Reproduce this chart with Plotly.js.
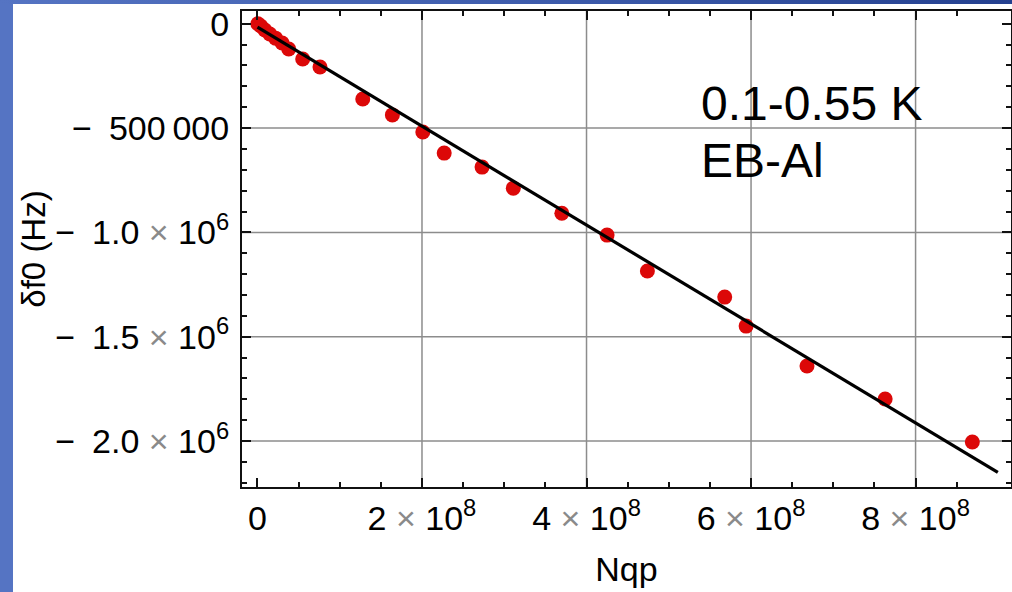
<!DOCTYPE html>
<html>
<head>
<meta charset="utf-8">
<script src="https://cdn.plot.ly/plotly-3.0.1.min.js"></script>
<style>
  html, body { margin: 0; padding: 0; width: 1012px; height: 592px; overflow: hidden; background: #5574c3; }
  #topbar { position: absolute; left: 0; top: 0; width: 1012px; height: 4px; background: linear-gradient(90deg, #5574c3, #3a58a8 60%, #24408f); }
  #chart { position: absolute; left: 13px; top: 4px; width: 999px; height: 588px; background: #fff; }
</style>
</head>
<body>
<div id="topbar"></div>
<div id="chart"></div>
<script>
// Measured data: quasiparticle number vs frequency shift
const nqp = [0.005e8, 0.04e8, 0.09e8, 0.15e8, 0.22e8, 0.30e8, 0.38e8, 0.55e8, 0.76e8,
             1.28e8, 1.64e8, 2.01e8, 2.27e8, 2.73e8, 3.11e8, 3.70e8, 4.25e8, 4.74e8,
             5.68e8, 5.94e8, 6.68e8, 7.63e8, 8.69e8];
const df0 = [0, -11000, -30000, -49000, -69000, -92000, -121000, -169000, -207000,
             -361000, -437000, -519000, -620000, -687000, -788000, -908000, -1013000, -1185000,
             -1310000, -1449000, -1640000, -1798000, -2004000];

// Linear fit line endpoints
const fitX = [0, 9.0e8];
const fitY = [-16600, -2149600];

// Tick labels
const xTickVals = [0, 2e8, 4e8, 6e8, 8e8];
const xTickText = ['0',
  '2<span style="color:#8a8a8a"> × </span>10<sup>8</sup>',
  '4<span style="color:#8a8a8a"> × </span>10<sup>8</sup>',
  '6<span style="color:#8a8a8a"> × </span>10<sup>8</sup>',
  '8<span style="color:#8a8a8a"> × </span>10<sup>8</sup>'];
const yTickVals = [0, -5e5, -1e6, -1.5e6, -2e6];
const yTickText = ['0',
  '−\u2002500\u2009000',
  '−\u20021.0<span style="color:#8a8a8a"> × </span>10<sup>6</sup>',
  '−\u20021.5<span style="color:#8a8a8a"> × </span>10<sup>6</sup>',
  '−\u20022.0<span style="color:#8a8a8a"> × </span>10<sup>6</sup>'];

// Minor tick positions
const xMinorVals = [0.5e8, 1e8, 1.5e8, 2.5e8, 3e8, 3.5e8, 4.5e8, 5e8, 5.5e8, 6.5e8, 7e8, 7.5e8, 8.5e8];
const yMinorVals = [-1e5, -2e5, -3e5, -4e5, -6e5, -7e5, -8e5, -9e5, -1.1e6, -1.2e6, -1.3e6, -1.4e6,
                    -1.6e6, -1.7e6, -1.8e6, -1.9e6, -2.1e6, -2.2e6];

// Grid lines (major ticks except zero)
const xGrid = [2e8, 4e8, 6e8, 8e8];
const yGrid = [-5e5, -1e6, -1.5e6, -2e6];

const labelTop = '0.1-0.55 K';
const labelBottom = 'EB-Al';

const FONT = '"Liberation Sans", Arial, Helvetica, sans-serif';

const traces = [
  {
    x: nqp, y: df0, type: 'scatter', mode: 'markers',
    marker: { color: 'rgb(220,8,8)', size: 15, line: { width: 0 } },
    showlegend: false, hoverinfo: 'x+y'
  },
  {
    x: fitX, y: fitY, type: 'scatter', mode: 'lines',
    line: { color: '#000', width: 3.2 },
    showlegend: false, hoverinfo: 'skip'
  }
];

const axisCommon = {
  showline: true, linecolor: '#111', linewidth: 2, mirror: 'ticks',
  ticks: 'inside', ticklen: 9, tickwidth: 2, tickcolor: '#111',
  showgrid: false, zeroline: false,
  tickmode: 'array', automargin: false,
  tickfont: { family: FONT, size: 34, color: '#000' }
};

const gridShapes = [];
xGrid.forEach(v => gridShapes.push({ type: 'line', layer: 'below', xref: 'x', yref: 'paper', x0: v, x1: v, y0: 0, y1: 1, line: { color: '#8c8c8c', width: 1.5 } }));
yGrid.forEach(v => gridShapes.push({ type: 'line', layer: 'below', xref: 'paper', yref: 'y', x0: 0, x1: 1, y0: v, y1: v, line: { color: '#8c8c8c', width: 1.5 } }));

const layout = {
  width: 999, height: 588, autosize: false,
  paper_bgcolor: '#fff', plot_bgcolor: '#fff',
  margin: { l: 229, r: 1, t: 7, b: 105, pad: 0 },
  font: { family: FONT, color: '#000' },
  xaxis: Object.assign({}, axisCommon, {
    range: [-0.188e8, 9.16e8],
    tickvals: xTickVals, ticktext: xTickText,
    ticklabelstandoff: 0,
    minor: { tickmode: 'array', tickvals: xMinorVals, ticks: 'inside', ticklen: 5, tickwidth: 2, tickcolor: '#111', showgrid: false },
    title: { text: 'Nqp', font: { family: FONT, size: 34, color: '#000' }, standoff: 21 }
  }),
  yaxis: Object.assign({}, axisCommon, {
    range: [-2.220e6, 0.061e6],
    tickvals: yTickVals, ticktext: yTickText,
    ticklabelstandoff: 4,
    minor: { tickmode: 'array', tickvals: yMinorVals, ticks: 'inside', ticklen: 5, tickwidth: 2, tickcolor: '#111', showgrid: false },
    title: { text: 'δf0 (Hz)', font: { family: FONT, size: 33, color: '#000' }, standoff: 0 }
  }),
  shapes: gridShapes,
  annotations: [
    { xref: 'paper', yref: 'paper', x: 0.594, y: 0.805, xanchor: 'left', yanchor: 'middle',
      text: labelTop, showarrow: false, font: { family: FONT, size: 48, color: '#000' } },
    { xref: 'paper', yref: 'paper', x: 0.594, y: 0.686, xanchor: 'left', yanchor: 'middle',
      text: labelBottom, showarrow: false, font: { family: FONT, size: 48, color: '#000' } }
  ]
};

Plotly.newPlot('chart', traces, layout, { displayModeBar: false, staticPlot: true });
</script>
</body>
</html>
